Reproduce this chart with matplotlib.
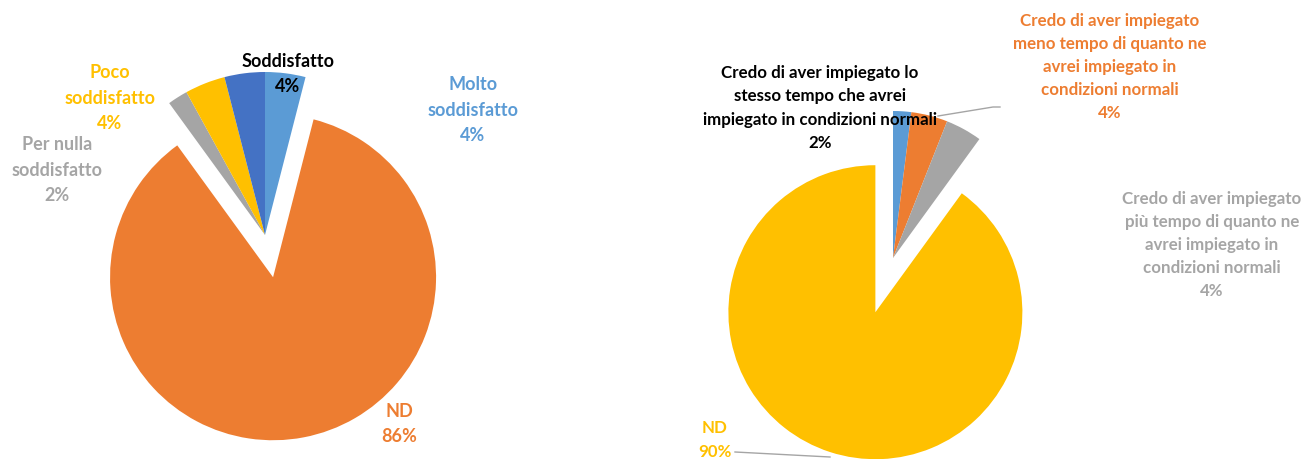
import matplotlib
matplotlib.use("Agg")
import matplotlib.pyplot as plt

# ---- data ----
left_labels = ["Molto\nsoddisfatto", "ND", "Per nulla\nsoddisfatto", "Poco\nsoddisfatto", "Soddisfatto"]
left_values = [4, 86, 2, 4, 4]
left_colors = ["#5B9BD5", "#ED7D31", "#A5A5A5", "#FFC000", "#4472C4"]
left_text_colors = ["#5B9BD5", "#ED7D31", "#A5A5A5", "#FFC000", "#000000"]

right_labels = [
    "Credo di aver impiegato lo\nstesso tempo che avrei\nimpiegato in condizioni normali",
    "Credo di aver impiegato\nmeno tempo di quanto ne\navrei impiegato in\ncondizioni normali",
    "Credo di aver impiegato\npiù tempo di quanto ne\navrei impiegato in\ncondizioni normali",
    "ND",
]
right_values = [2, 4, 4, 90]
right_colors = ["#5B9BD5", "#ED7D31", "#A5A5A5", "#FFC000"]
right_text_colors = ["#000000", "#ED7D31", "#A5A5A5", "#FFC000"]

W, H = 1305, 459
fig = plt.figure(figsize=(W / 100, H / 100), dpi=100)
ax = fig.add_axes([0, 0, 1, 1])

# left pie (pixel coordinates, y down); explode is in data units here
ax.pie(left_values, colors=left_colors, startangle=-90, counterclock=True,
       center=(265, 235), radius=163, explode=[0, 43, 0, 0, 0],
       wedgeprops=dict(linewidth=0))
# right pie
ax.pie(right_values, colors=right_colors, startangle=-90, counterclock=True,
       center=(893, 258), radius=147, explode=[0, 0, 0, 57],
       wedgeprops=dict(linewidth=0))

ax.set_aspect("auto")
ax.set_xlim(0, W)
ax.set_ylim(H, 0)
ax.axis("off")

font = dict(family=["Lato", "DejaVu Sans"], fontweight="bold", ha="center", va="center")

left_pos = [(473, 110), (399, 424), (57, 170), (110, 98), (288, 74)]
for lab, v, c, (x, y) in zip(left_labels, left_values, left_text_colors, left_pos):
    ax.text(x, y, f"{lab}\n{v}%", color=c, fontsize=13, linespacing=1.62, **font)

right_pos = [(820, 108), (1110, 67), (1212, 245), (715, 440)]
for lab, v, c, (x, y) in zip(right_labels, right_values, right_text_colors, right_pos):
    ax.text(x, y, f"{lab}\n{v}%", color=c, fontsize=12.2, linespacing=1.55, **font)

# leader lines
ax.plot([938, 993, 1000], [116, 107, 107], color="#A5A5A5", lw=1)
ax.plot([735, 830], [452, 457], color="#A5A5A5", lw=1)

fig.savefig("out.png", dpi=100)
